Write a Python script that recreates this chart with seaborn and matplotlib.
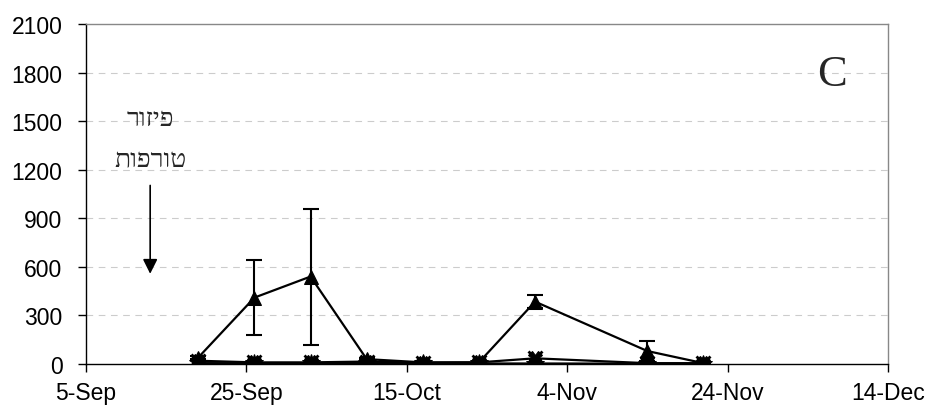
import pandas as pd
import numpy as np
import matplotlib
matplotlib.use("Agg")
import matplotlib.pyplot as plt
import matplotlib.dates as mdates
import seaborn as sns

# sampling dates and mean counts per treatment
dates = ['2005-09-19', '2005-09-26', '2005-10-03', '2005-10-10', '2005-10-17',
         '2005-10-24', '2005-10-31', '2005-11-14', '2005-11-21']
triangle = [40, 410, 540, 30, 10, 10, 385, 80, 5]
triangle_se = [10, 230, 420, 8, 4, 4, 42, 60, 4]
cross = [20, 10, 10, 15, 8, 10, 35, 5, 5]
square = [3, 3, 2, 2, 1, 0, 1, 0, 0]
star = [5, 4, 4, 5, 3, 3, 2, 2, 2]

x_ticks = ['2005-09-05', '2005-09-25', '2005-10-15', '2005-11-04', '2005-11-24', '2005-12-14']
y_ticks = [0, 300, 600, 900, 1200, 1500, 1800, 2100]
arrow_label = ['פיזור', 'טורפות']
panel = 'C'

x = pd.to_datetime(dates)

sns.set_style("white")
plt.rcParams['font.family'] = ['Liberation Sans', 'DejaVu Sans']

fig = plt.figure(figsize=(9.27, 4.14), dpi=100)
ax = fig.add_axes([0.0928, 0.1184, 0.865, 0.8212])

# error bars for the triangle series only
ax.errorbar(x, triangle, yerr=triangle_se, fmt='none', ecolor='black',
            elinewidth=1.5, capsize=5.5, capthick=1.5, zorder=2)

series = [(star, '*', 13), (square, 's', 8), (cross, 'X', 10), (triangle, '^', 10)]
for vals, mk, ms in series:
    sns.lineplot(x=x, y=vals, ax=ax, color='black', linewidth=1.6,
                 marker=mk, markersize=ms, markeredgecolor='black', zorder=3)
# real "x" look for the cross series
ax.plot(x, cross, linestyle='none', marker='x', markersize=10, mew=2, color='black', zorder=4)

ax.set_xlim(pd.Timestamp(x_ticks[0]), pd.Timestamp(x_ticks[-1]))
ax.set_ylim(0, 2100)
ax.set_xticks(pd.to_datetime(x_ticks))
ax.xaxis.set_major_formatter(mdates.DateFormatter('%-d-%b'))
ax.set_yticks(y_ticks)
ax.tick_params(axis='both', direction='out', length=6, width=1, labelsize=16.5,
               colors='black', bottom=True, left=True)
ax.tick_params(axis='x', pad=6)
ax.tick_params(axis='y', pad=11)

for yv in y_ticks[1:-1]:
    ax.axhline(yv, color='#cccccc', linestyle=(0, (6, 5)), linewidth=0.8, zorder=0)

for side in ['left', 'bottom']:
    ax.spines[side].set_color('black')
    ax.spines[side].set_linewidth(1)
for side in ['top', 'right']:
    ax.spines[side].set_color('#888888')
    ax.spines[side].set_linewidth(1)

# arrow showing the predator release
arrow_x = pd.Timestamp('2005-09-13')
ax.annotate('', xy=(arrow_x, 540), xytext=(arrow_x, 1120),
            arrowprops=dict(arrowstyle='-|>', color='black', lw=1.2,
                            mutation_scale=22))
# Hebrew is written right-to-left; matplotlib has no bidi, so reverse for display
ax.text(arrow_x, 1515, arrow_label[0][::-1], ha='center', va='center',
        fontsize=19, family=['Liberation Serif', 'DejaVu Sans'])
ax.text(arrow_x, 1260, arrow_label[1][::-1], ha='center', va='center',
        fontsize=19, family=['Liberation Serif', 'DejaVu Sans'])

ax.text(pd.Timestamp('2005-12-07'), 1790, panel, ha='center', va='center',
        fontsize=32, family=['Liberation Serif', 'DejaVu Serif'])

ax.set_xlabel('')
ax.set_ylabel('')
if ax.get_legend() is not None:
    ax.get_legend().remove()

fig.savefig('out.png', dpi=100)
